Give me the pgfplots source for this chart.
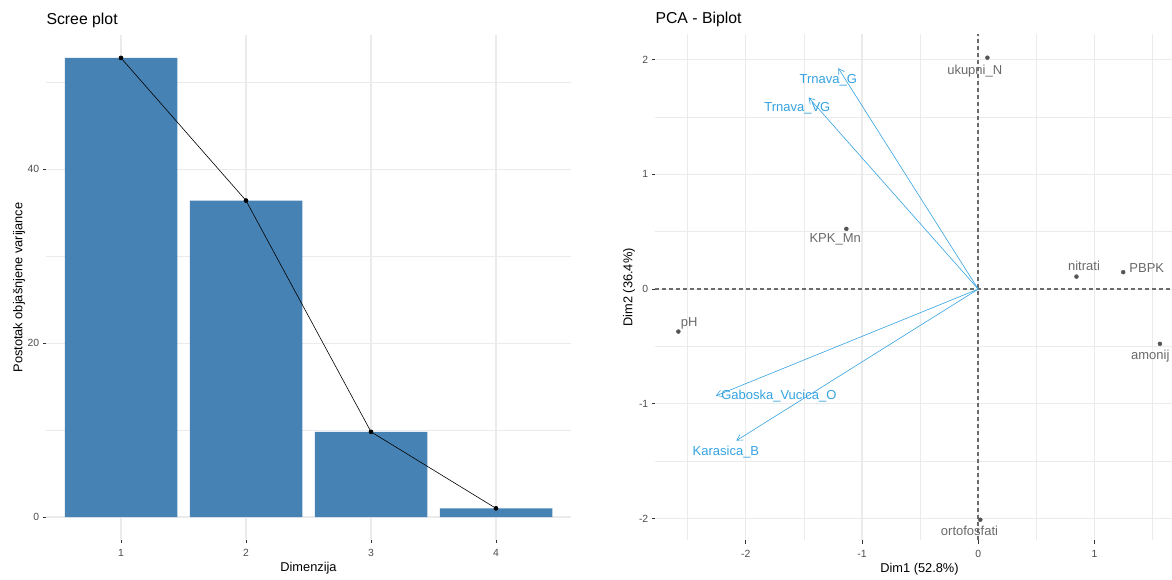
\documentclass[border=0pt]{standalone}
\usepackage{fontspec}
\setmainfont{Liberation Sans}
\usepackage{pgfplots}
\pgfplotsset{compat=1.18}
\usetikzlibrary{arrows.meta}
\definecolor{steel}{RGB}{70,130,180}
\definecolor{gridc}{RGB}{235,235,235}
\definecolor{tickc}{RGB}{77,77,77}
\definecolor{tickm}{RGB}{51,51,51}
\definecolor{varc}{RGB}{52,162,225}
\definecolor{indc}{RGB}{105,105,105}
\definecolor{ptc}{RGB}{85,85,85}
\pgfplotsset{gg/.style={
  scale only axis,
  axis line style={draw=none},
  tick align=outside,
  major tick length=3.2pt,
  minor tick length=0pt,
  xtick pos=left, ytick pos=left,
  tick style={color=tickm, line width=0.8pt},
  grid=both,
  major grid style={color=gridc, line width=1.1pt},
  minor grid style={color=gridc, line width=0.55pt},
  tick label style={font=\fontsize{10.4}{12}\selectfont, text=tickc},
  xticklabel style={yshift=-3pt},
  /pgf/number format/assume math mode=true,
  label style={font=\fontsize{12.8}{15}\selectfont},
  title style={font=\fontsize{15.8}{18}\selectfont, at={(axis description cs:0,1)}, anchor=base west, yshift=4.5pt, xshift=-3pt},
}}
\begin{document}
\begin{tikzpicture}[x=1pt,y=1pt]
\useasboundingbox (0,0) rectangle (1172,579);
% ---------------- Scree plot ----------------
\begin{axis}[gg,
  at={(46pt,39pt)}, anchor=south west,
  width=525pt, height=505pt,
  xmin=0.4, xmax=4.6, ymin=-2.64, ymax=55.44,
  xtick={1,2,3,4}, ytick={0,20,40}, minor ytick={10,30,50},
  title={Scree plot},
  xlabel={Dimenzija},
  ylabel={Postotak objašnjene varijance},
  xlabel style={at={(axis description cs:0.5,-0.0565)}, anchor=center},
  ylabel style={at={(axis description cs:-0.0514,0.5)}, anchor=center},
]
\addplot[ybar, bar width=0.9, fill=steel, draw=none] coordinates {(1,52.8) (2,36.4) (3,9.8) (4,1.0)};
\addplot[black, line width=0.6pt, mark=*, mark size=2pt] coordinates {(1,52.8) (2,36.4) (3,9.8) (4,1.0)};
\end{axis}
% ---------------- Biplot ----------------
\begin{axis}[gg,
  at={(655pt,38.6pt)}, anchor=south west,
  width=529pt, height=506pt,
  xmin=-2.78, xmax=1.77, ymin=-2.19, ymax=2.22,
  xtick={-2,-1,0,1}, ytick={-2,-1,0,1,2},
  minor xtick={-2.5,-1.5,-0.5,0.5,1.5}, minor ytick={-1.5,-0.5,0.5,1.5},
  title={PCA - Biplot},
  xlabel={Dim1 (52.8\%)},
  ylabel={Dim2 (36.4\%)},
  xlabel style={at={(axis description cs:0.5,-0.0565)}, anchor=center},
  ylabel style={at={(axis description cs:-0.049,0.5)}, anchor=center},
  clip=false,
]
% reference lines
\addplot[color=black!58, line width=1.5pt, dash pattern=on 4pt off 3pt] coordinates {(-2.78,0) (1.77,0)};
\addplot[color=black!58, line width=1.5pt, dash pattern=on 4pt off 3pt] coordinates {(0,-2.19) (0,2.22)};
% variable arrows
\addplot[varc, line width=0.6pt, -{Straight Barb[length=5.7pt,width=6.6pt]}] coordinates {(0,0) (-1.204,1.926)};
\addplot[varc, line width=0.6pt, -{Straight Barb[length=5.7pt,width=6.6pt]}] coordinates {(0,0) (-1.459,1.670)};
\addplot[varc, line width=0.6pt, -{Straight Barb[length=5.7pt,width=6.6pt]}] coordinates {(0,0) (-2.257,-0.930)};
\addplot[varc, line width=0.6pt, -{Straight Barb[length=5.7pt,width=6.6pt]}] coordinates {(0,0) (-2.080,-1.320)};
% individuals
\addplot[only marks, mark=*, mark size=2pt, color=ptc] coordinates {
  (0.079,2.017) (-1.134,0.525) (0.845,0.109) (1.247,0.148)
  (1.563,-0.477) (-2.579,-0.370) (0.018,-2.010)};
\begin{scope}[font=\fontsize{13}{15}\selectfont]
\node[text=indc] at (axis cs:-0.03,1.90) {ukupni\_N};
\node[text=indc] at (axis cs:-1.23,0.43) {KPK\_Mn};
\node[text=indc] at (axis cs:0.91,0.20) {nitrati};
\node[text=indc] at (axis cs:1.45,0.18) {PBPK};
\node[text=indc] at (axis cs:1.48,-0.58) {amonij};
\node[text=indc] at (axis cs:-2.485,-0.30) {pH};
\node[text=indc] at (axis cs:-0.075,-2.11) {ortofosfati};
\node[text=varc] at (axis cs:-1.29,1.82) {Trnava\_G};
\node[text=varc] at (axis cs:-1.556,1.58) {Trnava\_VG};
\node[text=varc] at (axis cs:-1.715,-0.93) {Gaboska\_Vucica\_O};
\node[text=varc] at (axis cs:-2.17,-1.42) {Karasica\_B};
\end{scope}
\end{axis}
\end{tikzpicture}
\end{document}
